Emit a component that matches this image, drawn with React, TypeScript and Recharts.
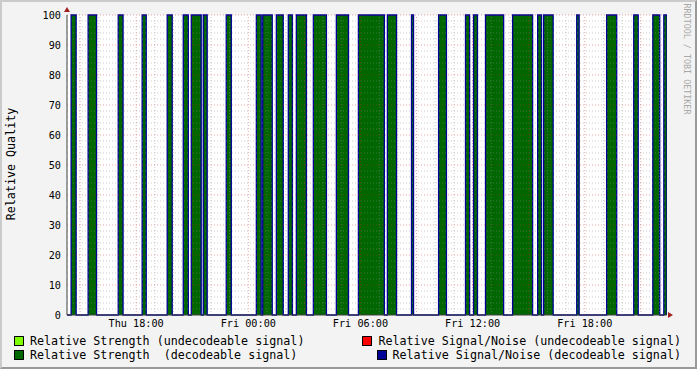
import { ComposedChart, Area, Line, XAxis, YAxis, CartesianGrid, ReferenceLine } from "recharts";

// hours since Thu 00:00
const decodeableStart = [14.52, 15.43, 17.04, 18.32, 19.66, 20.52, 20.95, 21.59, 22.82, 24.43, 24.77, 25.5, 26.14, 26.57, 27.48, 28.71, 29.89, 31.44, 32.73, 34.18, 35.62, 36.05, 36.69, 38.14, 39.48, 39.8, 41.57, 43.17, 44.62, 45.64, 46.23];
const decodeableEnd = [14.79, 15.88, 17.3, 18.54, 19.93, 20.79, 21.48, 21.8, 23.09, 24.69, 25.28, 25.87, 26.36, 27.11, 28.18, 29.36, 31.28, 31.93, 32.84, 34.6, 35.84, 36.26, 37.66, 39.21, 39.69, 40.31, 41.7, 43.71, 44.86, 46.01, 46.4];
const timeDomain = [14.3, 46.4];
const timeTicks = [18, 24, 30, 36, 42];
const timeLabels = ["Thu 18:00", "Fri 00:00", "Fri 06:00", "Fri 12:00", "Fri 18:00"];
const qualityTicks = [0, 10, 20, 30, 40, 50, 60, 70, 80, 90, 100];

const legendItems = [
  { name: "Relative Strength (undecodeable signal)", color: "#80FF00" },
  { name: "Relative Signal/Noise (undecodeable signal)", color: "#FF0000" },
  { name: "Relative Strength  (decodeable signal)", color: "#006600" },
  { name: "Relative Signal/Noise (decodeable signal)", color: "#000099" },
];

const FONT = '"DejaVu Sans Mono", monospace';

const data: { t: number; strength: number; snr: number }[] = [{ t: timeDomain[0], strength: 0, snr: 0 }];
decodeableStart.forEach((s, i) => {
  data.push({ t: s, strength: 100, snr: 100 });
  data.push({ t: decodeableEnd[i], strength: 0, snr: 0 });
});

const minorY: number[] = [];
for (let v = 2; v < 100; v += 2) if (v % 10 !== 0) minorY.push(v);
const minorX: number[] = [];
const majorX: number[] = [];
for (let h = 15; h <= 46; h++) (h % 3 === 0 ? majorX : minorX).push(h);

function LegendEntry({ name, color }: { name: string; color: string }) {
  return (
    <div style={{ display: "flex", alignItems: "center", height: 14 }}>
      <span style={{ width: 8, height: 8, background: color, border: "1px solid #000", marginRight: 6 }} />
      <span style={{ whiteSpace: "pre" }}>{name}</span>
    </div>
  );
}

export default function App() {
  return (
    <div style={{ position: "absolute", left: 0, top: 0, width: 697, height: 369, background: "#F3F3F3", fontFamily: FONT }}>
      <div
        style={{
          position: "absolute",
          inset: 0,
          borderTop: "2px solid #CBCBCB",
          borderLeft: "2px solid #CBCBCB",
          borderBottom: "2px solid #999999",
          borderRight: "2px solid #999999",
        }}
      />
      <ComposedChart
        width={697}
        height={369}
        data={data}
        margin={{ top: 15, right: 30, bottom: 34, left: 0 }}
        style={{ position: "absolute", left: 0, top: 0 }}
      >
        <CartesianGrid fill="#FFFFFF" horizontal={false} vertical={false} />
        <XAxis
          dataKey="t"
          type="number"
          domain={timeDomain}
          ticks={timeTicks}
          tickFormatter={(v: number) => timeLabels[timeTicks.indexOf(v)]}
          allowDataOverflow
          height={20}
          tickLine={false}
          tickSize={0}
          tickMargin={5}
          axisLine={{ stroke: "#404040" }}
          tick={{ fontFamily: FONT, fontSize: 10.2, fill: "#000" }}
        />
        <YAxis
          type="number"
          domain={[0, 100]}
          ticks={qualityTicks}
          width={67}
          tickLine={false}
          tickSize={0}
          tickMargin={6}
          axisLine={{ stroke: "#404040" }}
          tick={{ fontFamily: FONT, fontSize: 10.2, fill: "#000" }}
        />
        <Area
          dataKey="strength"
          type="stepAfter"
          fill="#006600"
          fillOpacity={1}
          stroke="none"
          isAnimationActive={false}
        />
        <Line
          dataKey="snr"
          type="stepAfter"
          stroke="#000099"
          strokeWidth={1.3}
          dot={false}
          isAnimationActive={false}
        />
        {minorY.map((v) => (
          <ReferenceLine key={"my" + v} y={v} stroke="rgba(140,140,140,0.45)" strokeDasharray="1 2" />
        ))}
        {minorX.map((v) => (
          <ReferenceLine key={"mx" + v} x={v} stroke="rgba(140,140,140,0.45)" strokeDasharray="1 2" />
        ))}
        {qualityTicks.slice(1).map((v) => (
          <ReferenceLine key={"My" + v} y={v} stroke="rgba(190,40,40,0.4)" strokeDasharray="1 2" />
        ))}
        {majorX.map((v) => (
          <ReferenceLine key={"Mx" + v} x={v} stroke="rgba(190,40,40,0.4)" strokeDasharray="1 2" />
        ))}
      </ComposedChart>
      <svg width={697} height={369} style={{ position: "absolute", left: 0, top: 0, pointerEvents: "none" }}>
        <polygon points="668,312 673,315 668,318" fill="#A02020" />
        <polygon points="64,12 67,7 70,12" fill="#A02020" />
      </svg>
      <div
        style={{
          position: "absolute",
          left: 11,
          top: 164,
          transform: "translate(-50%, -50%) rotate(-90deg)",
          whiteSpace: "nowrap",
          fontSize: 11.7,
          color: "#000",
        }}
      >
        Relative Quality
      </div>
      <div
        style={{
          position: "absolute",
          left: 687,
          top: 59,
          transform: "translate(-50%, -50%) rotate(90deg)",
          whiteSpace: "nowrap",
          fontSize: 8.4,
          color: "#A8A8A8",
        }}
      >
        RRDTOOL / TOBI OETIKER
      </div>
      <div style={{ position: "absolute", left: 14, top: 334, fontSize: 11.7, color: "#000" }}>
        <LegendEntry {...legendItems[0]} />
        <LegendEntry {...legendItems[2]} />
      </div>
      <div
        style={{
          position: "absolute",
          right: 16,
          top: 334,
          fontSize: 11.7,
          color: "#000",
          display: "flex",
          flexDirection: "column",
          alignItems: "flex-end",
        }}
      >
        <LegendEntry {...legendItems[1]} />
        <LegendEntry {...legendItems[3]} />
      </div>
    </div>
  );
}
